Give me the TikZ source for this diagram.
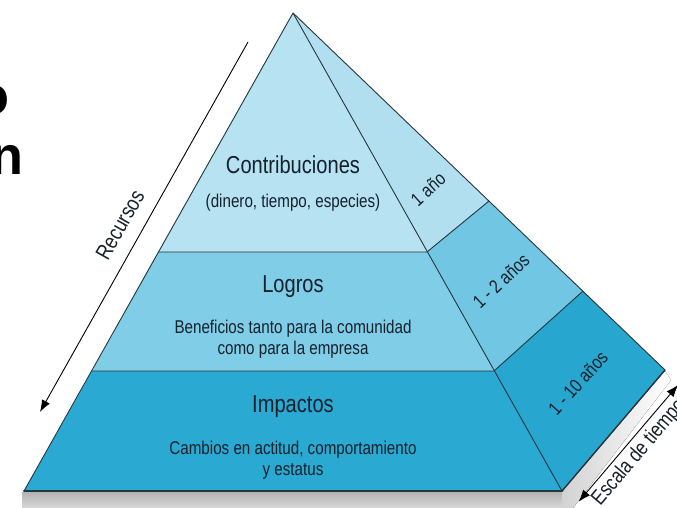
\documentclass[tikz,border=0pt]{standalone}
\usepackage{fontspec}
\setmainfont{Liberation Sans}[FakeStretch=0.82]
\newfontfamily\widesans{Liberation Sans}
\usetikzlibrary{arrows.meta}
\definecolor{topF}{HTML}{B6E2F2}
\definecolor{midF}{HTML}{7FCDE7}
\definecolor{botF}{HTML}{2AA9D2}
\definecolor{topR}{HTML}{B2DFF0}
\definecolor{midR}{HTML}{70C6E3}
\definecolor{botR}{HTML}{27A6CF}
\definecolor{edgec}{HTML}{26363F}
\definecolor{txt}{HTML}{15212B}
\begin{document}
\begin{tikzpicture}[x=1pt,y=-1pt,
  face/.style={draw=edgec, line width=0.9pt, line join=round},
  title/.style={font=\fontsize{24.5}{28}\selectfont, text=txt, inner sep=0},
  body/.style={font=\fontsize{18.5}{20.5}\selectfont, align=center, text=txt, inner sep=0},
  side/.style={font=\fontsize{19}{22}\selectfont, text=txt, inner sep=0},
  big/.style={font=\widesans\bfseries\fontsize{54}{60}\selectfont, text=black, inner sep=0},
  axis/.style={draw=black, line width=0.9pt},
  tip/.style={-{Latex[length=12pt,width=9pt]}}]
\useasboundingbox (0,0) rectangle (677,508);
\clip (0,0) rectangle (677,508);
\fill[white] (0,0) rectangle (677,508);
% corners
\coordinate (A) at (293,13);
\coordinate (FL) at (24,491);
\coordinate (FR) at (562,491);
\coordinate (RR) at (665,370);
\coordinate (b1L) at (158,252);
\coordinate (b1R) at (427,252);
\coordinate (b1RR) at (489,201);
\coordinate (b2L) at (92,371);
\coordinate (b2R) at (494,371);
\coordinate (b2RR) at (583,291);
% shadow
\fill[top color=gray!60, bottom color=gray!30] (22,492) rectangle (564,508);
\fill[left color=gray!35, right color=white] (562,492) -- (665,371) -- (671,380) -- (573,508) -- (562,508) -- cycle;
% front faces
\fill[topF] (A) -- (b1L) -- (b1R) -- cycle;
\fill[midF] (b1L) -- (b2L) -- (b2R) -- (b1R) -- cycle;
\fill[botF] (b2L) -- (FL) -- (FR) -- (b2R) -- cycle;
% right faces
\fill[topR] (A) -- (b1R) -- (b1RR) -- cycle;
\fill[midR] (b1R) -- (b2R) -- (b2RR) -- (b1RR) -- cycle;
\fill[botR] (b2R) -- (FR) -- (RR) -- (b2RR) -- cycle;
% outlines
\draw[face] (A) -- (FL) -- (FR) -- (RR) -- cycle;
\draw[face] (A) -- (FR);
\draw[face] (b1L) -- (b1R) -- (b1RR);
\draw[face] (b2L) -- (b2R) -- (b2RR);
\draw[edgec, line width=2pt, line cap=round] (FL) -- (FR);
\draw[edgec, line width=1.3pt, line cap=round] (FR) -- (RR);
% labels on front
\node[title] (contrib) at (293,165) {Contribuciones};
\node[body] (contribsub) at (293,203) {(dinero, tiempo, especies)};
\node[title] (logros) at (293,287) {Logros};
\node[body] (logrosub) at (293,339) {Beneficios tanto para la comunidad\\como para la empresa};
\node[title] (impactos) at (293,407) {Impactos};
\node[body] (impsub) at (293,460) {Cambios en actitud, comportamiento\\y estatus};
% labels on side
\node[side, rotate=42] (t1) at (428,189) {1 año};
\node[side, rotate=43] (t2) at (501,281) {1 - 2 años};
\node[side, rotate=48] (t3) at (578,383) {1 - 10 años};
% Recursos arrow
\coordinate (r1) at (248,42);
\coordinate (r2) at (40,412);
\draw[axis, tip] (r1) -- (r2);
\node[side, font=\fontsize{22}{24}\selectfont, rotate=60.6] (rec) at (120,225) {Recursos};
% Escala de tiempo arrow
\coordinate (e1) at (578.7,501.7);
\coordinate (e2) at (678,385);
\draw[axis, {Latex[length=12pt,width=9pt]}-{Latex[length=12pt,width=9pt]}] (e1) -- (e2);
\node[side, font=\fontsize{21}{24}\selectfont, rotate=49.6, anchor=base west] (esc) at (600.3,506.5) {Escala de tiempo};
% cut title fragments
\node[big, anchor=base east] (frag1) at (10,115) {o};
\node[big, anchor=base east] (frag2) at (24,175) {n};
\end{tikzpicture}
\end{document}
